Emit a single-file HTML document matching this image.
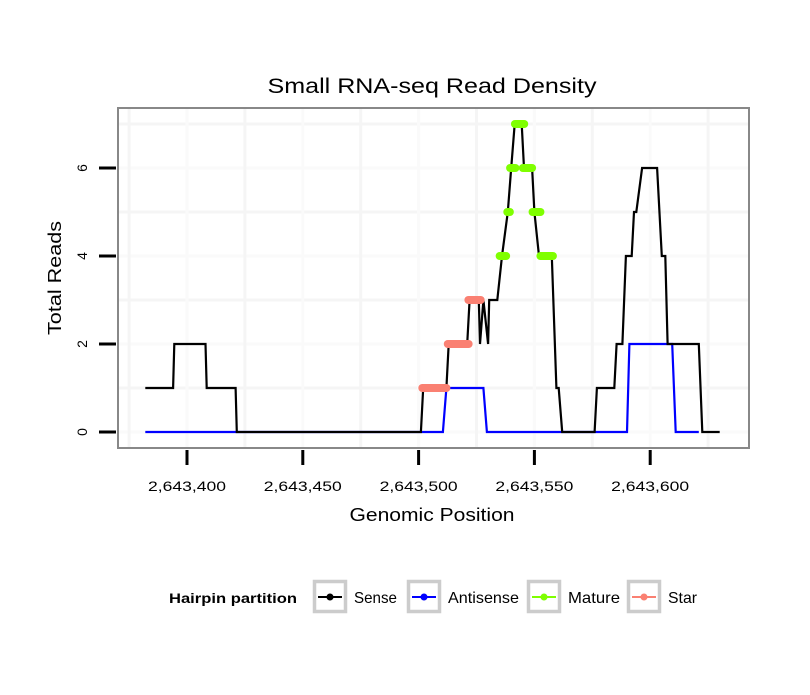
<!DOCTYPE html>
<html><head><meta charset="utf-8"><style>
body{margin:0;background:#fff}
svg text{font-family:"Liberation Sans",Arial,sans-serif}
</style></head><body>
<svg id="c" width="810" height="690" viewBox="0 0 810 690" xmlns="http://www.w3.org/2000/svg">
<rect width="810" height="690" fill="#fff"/>
<g id="grid"></g>
<g id="series"></g>
<rect x="118" y="108" width="631" height="340" fill="none" stroke="#888" stroke-width="2"/>
<g id="axes"></g>
<text x="432" y="93" font-size="21" text-anchor="middle" textLength="329" lengthAdjust="spacingAndGlyphs">Small RNA-seq Read Density</text>
<text x="432" y="521" font-size="18" text-anchor="middle" textLength="165" lengthAdjust="spacingAndGlyphs">Genomic Position</text>
<text transform="translate(61,278) rotate(-90)" font-size="18" text-anchor="middle" textLength="114" lengthAdjust="spacingAndGlyphs">Total Reads</text>
<g id="legend">
<text x="169" y="603" font-size="14" font-weight="bold" textLength="128" lengthAdjust="spacingAndGlyphs">Hairpin partition</text>
</g>
</svg>
<script>
const xTicks=[2643400,2643450,2643500,2643550,2643600];
const xTickLabels=["2,643,400","2,643,450","2,643,500","2,643,550","2,643,600"];
const yTicks=[0,2,4,6];
const senseX=[2643382,2643394,2643394.5,2643408,2643408.5,2643421,2643421.5,2643501,2643502,2643512,2643513,2643521,2643522,2643526,2643526.5,2643528,2643530,2643530.5,2643534,2643536,2643538.5,2643540,2643541.5,2643544.5,2643545.5,2643549,2643550,2643552,2643557.5,2643559.5,2643560.5,2643562,2643576,2643577,2643584.5,2643585.5,2643588,2643589.5,2643592,2643593,2643594,2643596.5,2643603,2643605,2643606.5,2643607.5,2643621,2643622.5,2643630];
const senseY=[1,1,2,2,1,1,0,0,1,1,2,2,3,3,2,3,2,3,3,4,5,6,7,7,6,6,5,4,4,1,1,0,0,1,1,2,2,4,4,5,5,6,6,4,4,2,2,0,0];
const antiX=[2643382,2643510.5,2643512,2643528,2643529.5,2643590,2643591,2643609.5,2643611,2643621];
const antiY=[0,0,1,1,0,0,2,2,0,0];
const matureStart=[2643535,2643538.3,2643539.5,2643541.6,2643545,2643549.2,2643552.6];
const matureEnd=[2643537.8,2643539.4,2643541.8,2643545.6,2643549,2643552.6,2643558];
const matureVal=[4,5,6,7,6,5,4];
const starStart=[2643501.6,2643512.6,2643521.5];
const starEnd=[2643512,2643521.6,2643526.8];
const starVal=[1,2,3];
const legendLabels=["Sense","Antisense","Mature","Star"];
const legendColors=["#000","#0000ff","#7fff00","#fa8072"];

const X=p=>187+(p-2643400)*2.316;
const Y=v=>432-v*44;
const NS="http://www.w3.org/2000/svg";
function mk(parent,tag,attrs){const e=document.createElementNS(NS,tag);for(const k in attrs)e.setAttribute(k,attrs[k]);document.getElementById(parent).appendChild(e);return e;}
for(let v=0;v<=7;v++){const g=mk('grid','line',{x1:118,x2:749,y1:Y(v),y2:Y(v),stroke:v%2?'#f5f5f5':'#fafafa','stroke-width':3});

}
for(let p=2643375;p<=2643625;p+=25){const g=mk('grid','line',{x1:X(p),x2:X(p),y1:109,y2:447,stroke:(p%50)?'#f5f5f5':'#fafafa','stroke-width':3});

}
xTicks.forEach((t,i)=>{const l=mk('axes','line',{x1:X(t),x2:X(t),y1:450,y2:465,stroke:'#000','stroke-width':3});


const tx=mk('axes','text',{x:X(t),y:491,'font-size':14,'text-anchor':'middle',textLength:78,lengthAdjust:'spacingAndGlyphs'});tx.textContent=xTickLabels[i];

});
yTicks.forEach(t=>{const l=mk('axes','line',{x1:99,x2:116,y1:Y(t),y2:Y(t),stroke:'#000','stroke-width':3});


const tx=mk('axes','text',{transform:`translate(87,${Y(t)}) rotate(-90)`,'font-size':14,'text-anchor':'middle'});tx.textContent=t;

});
function line(xs,ys,col,name){const pts=xs.map((x,i)=>X(x).toFixed(1)+','+Y(ys[i]).toFixed(1)).join(' ');
const e=mk('series','polyline',{points:pts,fill:'none',stroke:col,'stroke-width':2.2,'stroke-linejoin':'miter'});

}
line(antiX,antiY,'#0000ff','antisense-line');
line(senseX,senseY,'#000','sense-line');
function segs(s,e2,v,col,name){s.forEach((a,i)=>{const e=mk('series','line',{x1:X(a),x2:X(e2[i]),y1:Y(v[i]),y2:Y(v[i]),stroke:col,'stroke-width':8,'stroke-linecap':'round'});

});}
segs(starStart,starEnd,starVal,'#fa8072','star-segment');
segs(matureStart,matureEnd,matureVal,'#7fff00','mature-segment');
const keyX=[313,407,527,627];
const textW=[43,71,52,29];
legendLabels.forEach((lab,i)=>{const x=keyX[i];
const r=mk('legend','rect',{x:x+1.5,y:581.5,width:31,height:30,fill:'#fff',stroke:'#ccc','stroke-width':3.5});


const l=mk('legend','line',{x1:x+5,x2:x+29,y1:597,y2:597,stroke:legendColors[i],'stroke-width':2});


const c=mk('legend','circle',{cx:x+17,cy:597,r:3.5,fill:legendColors[i]});


const t=mk('legend','text',{x:x+41,y:603,'font-size':16,textLength:textW[i],lengthAdjust:'spacingAndGlyphs'});t.textContent=lab;

});
</script>
</body></html>
